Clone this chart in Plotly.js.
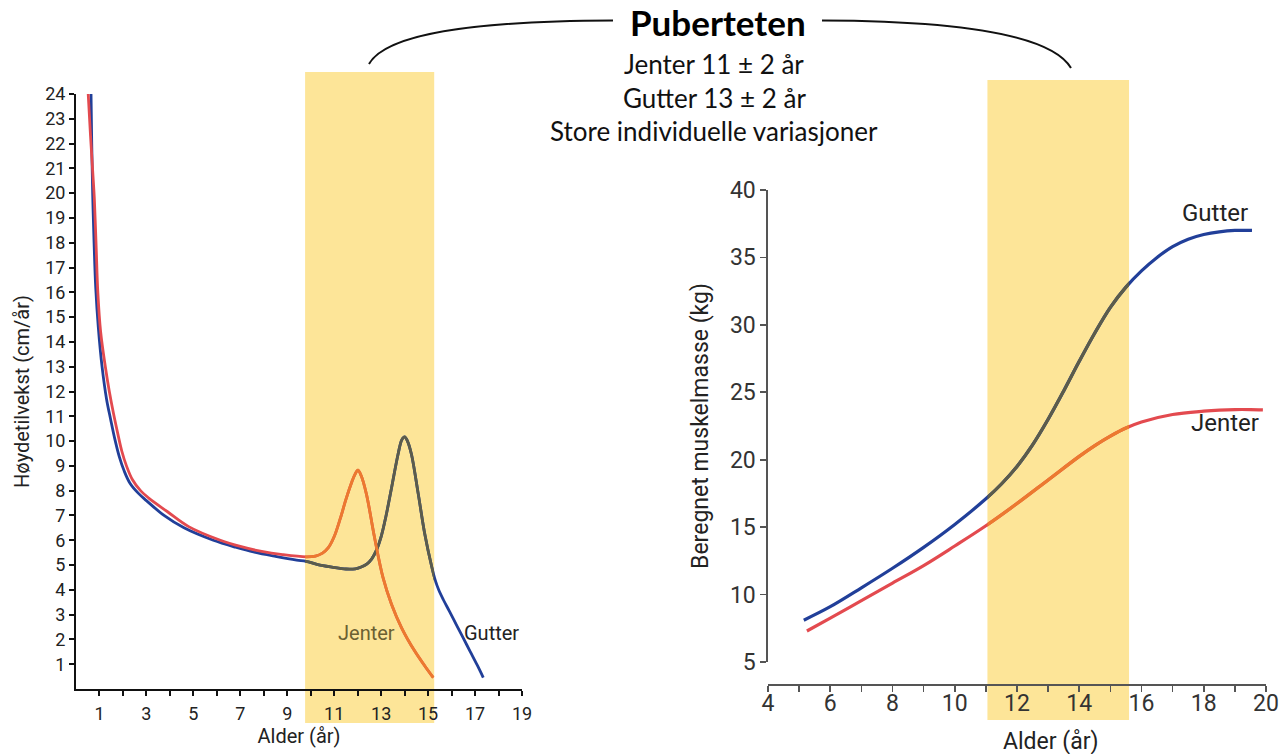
<!DOCTYPE html>
<html><head><meta charset="utf-8">
<script src="https://cdn.plot.ly/plotly-3.0.1.min.js"></script>
<style>html,body{margin:0;padding:0;background:#fff}#chart{width:1285px;height:754px}</style>
</head><body><div id="chart"></div>
<script>
// ---------- Left chart: Høydetilvekst (cm/år) vs Alder (år) ----------
const ageGutterL = [0.64, 0.67, 0.71, 0.77, 0.84, 0.95, 1.11, 1.3, 1.47, 1.65, 1.85, 2.05, 2.3, 2.65, 3.0, 3.75, 4.6, 5.85, 6.8, 7.6, 8.5, 9.4, 9.8, 10.3, 10.9, 11.5, 11.9, 12.15, 12.4, 12.6, 12.8, 13.0, 13.2, 13.45, 13.72, 13.88, 14.0, 14.12, 14.29, 14.58, 14.86, 15.15, 15.3, 15.45, 15.65, 15.9, 16.2, 16.5, 16.8, 17.1, 17.35];
const velGutterL = [24, 22, 20, 18, 16.2, 14.6, 13, 11.7, 10.9, 10.1, 9.35, 8.8, 8.3, 7.9, 7.6, 7.0, 6.5, 6.0, 5.72, 5.52, 5.35, 5.2, 5.15, 5.02, 4.92, 4.84, 4.85, 4.92, 5.05, 5.25, 5.6, 6.15, 6.95, 8.15, 9.47, 10.05, 10.17, 10.0, 9.47, 7.87, 6.24, 4.95, 4.4, 4.0, 3.6, 3.15, 2.6, 2.05, 1.5, 0.95, 0.46];
const ageJenterL = [0.52, 0.62, 0.71, 0.78, 0.86, 0.93, 1.05, 1.25, 1.42, 1.6, 1.78, 1.95, 2.15, 2.4, 2.75, 3.1, 3.9, 4.8, 6.15, 7.0, 7.91, 8.8, 9.8, 10.2, 10.5, 10.75, 11.0, 11.25, 11.5, 11.75, 11.88, 12.01, 12.15, 12.37, 12.72, 13.08, 13.44, 13.87, 14.43, 14.86, 15.22];
const velJenterL = [24, 22.3, 20.9, 19.8, 17.8, 16, 14.4, 13, 12.0, 11.1, 10.3, 9.6, 9.0, 8.45, 8.0, 7.7, 7.15, 6.55, 6.0, 5.75, 5.55, 5.42, 5.33, 5.36, 5.48, 5.7, 6.15, 6.85, 7.65, 8.35, 8.65, 8.83, 8.6, 7.87, 6.1, 4.49, 3.42, 2.47, 1.53, 0.93, 0.46];
const xTickValsL = [1,2,3,4,5,6,7,8,9,10,11,12,13,14,15,16,17,18,19];
const xTickTextL = ['1','','3','','5','','7','','9','','11','','13','','15','','17','','19'];
const yTickValsL = [1,2,3,4,5,6,7,8,9,10,11,12,13,14,15,16,17,18,19,20,21,22,23,24];
const pubertyBandL = [9.76, 15.26];

// ---------- Right chart: Beregnet muskelmasse (kg) vs Alder (år) ----------
const ageGutterR = [5.15, 6, 7, 8, 9, 10, 11, 11.5, 12, 12.5, 13, 13.5, 14, 14.5, 15, 15.5, 16, 16.5, 17, 17.5, 18, 18.5, 19, 19.55];
const massGutterR = [8.1, 9.1, 10.5, 11.95, 13.5, 15.2, 17.1, 18.2, 19.5, 21.1, 23.0, 25.1, 27.3, 29.4, 31.3, 32.8, 34.0, 35.0, 35.8, 36.35, 36.7, 36.9, 37.0, 37.0];
const ageJenterR = [5.25, 6, 7, 8, 9, 10, 11, 12, 13, 14, 14.5, 15, 15.5, 16, 17, 18, 18.5, 19, 19.5, 19.9];
const massJenterR = [7.3, 8.25, 9.55, 10.85, 12.15, 13.6, 15.1, 16.75, 18.5, 20.25, 21.05, 21.75, 22.35, 22.8, 23.35, 23.6, 23.68, 23.72, 23.72, 23.7];
const xTickValsR = [4,5,6,7,8,9,10,11,12,13,14,15,16,17,18,19,20];
const xTickTextR = ['4','','6','','8','','10','','12','','14','','16','','18','','20'];
const yTickValsR = [5,10,15,20,25,30,35,40];
const pubertyBandR = [11.05, 15.6];

// ---------- Geometry (pixels -> paper) ----------
const W = 1285, H = 754;
const px = p => p / W;
const py = p => 1 - p / H;
const LX = [76, 522], LY = [689, 94];
const RX = [768, 1266], RY = [662, 190], RXpos = 684;
const LXR = [0, 19], LYR = [0, 24], RXR = [4, 20], RYR = [5, 40];
function bandDomain(dom, rng, band) {
  const f = v => dom[0] + (v - rng[0]) / (rng[1] - rng[0]) * (dom[1] - dom[0]);
  return [px(f(band[0])), px(f(band[1]))];
}

const blue = '#213f99', red = '#e34a4f';
const blueBand = '#5c5c4a', redBand = '#ec7a2f';
const FONT = 'Roboto, "DejaVu Sans", sans-serif';
const TFONT = 'Lato, "Open Sans", sans-serif';

const lineL = (c) => ({color: c, width: 2.8, shape: 'spline', smoothing: 1});
const lineR = (c) => ({color: c, width: 3.2, shape: 'spline', smoothing: 1});

const traces = [
  {x: ageGutterL, y: velGutterL, xaxis: 'x', yaxis: 'y', mode: 'lines', line: lineL(blue), name: 'Gutter'},
  {x: ageJenterL, y: velJenterL, xaxis: 'x', yaxis: 'y', mode: 'lines', line: lineL(red), name: 'Jenter'},
  {x: ageGutterL, y: velGutterL, xaxis: 'x3', yaxis: 'y', mode: 'lines', line: lineL(blueBand), name: 'Gutter'},
  {x: ageJenterL, y: velJenterL, xaxis: 'x3', yaxis: 'y', mode: 'lines', line: lineL(redBand), name: 'Jenter'},
  {x: ageGutterR, y: massGutterR, xaxis: 'x2', yaxis: 'y2', mode: 'lines', line: lineR(blue), name: 'Gutter'},
  {x: ageJenterR, y: massJenterR, xaxis: 'x2', yaxis: 'y2', mode: 'lines', line: lineR(red), name: 'Jenter'},
  {x: ageGutterR, y: massGutterR, xaxis: 'x4', yaxis: 'y2', mode: 'lines', line: lineR(blueBand), name: 'Gutter'},
  {x: ageJenterR, y: massJenterR, xaxis: 'x4', yaxis: 'y2', mode: 'lines', line: lineR(redBand), name: 'Jenter'}
];

const axBaseL = {showgrid: false, zeroline: false, showline: true, linecolor: '#111', linewidth: 2,
  ticks: 'outside', ticklen: 5, tickwidth: 2, tickcolor: '#111', tickfont: {family: FONT, size: 18, color: '#222'}, fixedrange: true};
const axBaseR = {showgrid: false, zeroline: false, showline: true, linecolor: '#555', linewidth: 1.6,
  ticks: 'outside', ticklen: 6, tickwidth: 1.6, tickcolor: '#555', tickfont: {family: FONT, size: 23, color: '#333'}, fixedrange: true};

// bracket path over the two charts
const P = (x, y) => px(x).toFixed(5) + ',' + py(y).toFixed(5);
const bracketL = 'M' + P(369, 64) + ' C' + P(386, 34) + ' ' + P(470, 21) + ' ' + P(613, 20.5);
const bracketR = 'M' + P(822, 20.5) + ' C' + P(965, 21) + ' ' + P(1052, 36) + ' ' + P(1071, 68);

const ann = (o) => Object.assign({showarrow: false, xanchor: 'center', yanchor: 'middle'}, o);

const layout = {
  width: W, height: H, margin: {l: 0, r: 0, t: 0, b: 0},
  paper_bgcolor: '#ffffff', plot_bgcolor: 'rgba(0,0,0,0)', showlegend: false,
  font: {family: FONT, color: '#222'},
  xaxis: Object.assign({}, axBaseL, {domain: [px(LX[0]), px(LX[1])], range: LXR, anchor: 'y',
    tickmode: 'array', tickvals: xTickValsL, ticktext: xTickTextL, ticklabelstandoff: 2,
    title: {text: 'Alder (år)', font: {family: FONT, size: 20, color: '#222'}, standoff: 3}}),
  yaxis: Object.assign({}, axBaseL, {domain: [py(LY[0]), py(LY[1])], range: LYR, anchor: 'x',
    tickmode: 'array', tickvals: yTickValsL,
    title: {text: 'Høydetilvekst (cm/år)', font: {family: FONT, size: 20, color: '#222'}, standoff: 10}}),
  xaxis2: Object.assign({}, axBaseR, {domain: [px(RX[0]), px(RX[1])], range: RXR, anchor: 'free', position: py(RXpos),
    tickmode: 'array', tickvals: xTickValsR, ticktext: xTickTextR, ticklabelstandoff: -8}),
  yaxis2: Object.assign({}, axBaseR, {domain: [py(RY[0]), py(RY[1])], range: RYR, anchor: 'x2',
    tickmode: 'array', tickvals: yTickValsR,
    title: {text: 'Beregnet muskelmasse (kg)', font: {family: FONT, size: 23, color: '#222'}, standoff: 15}}),
  xaxis3: {domain: bandDomain(LX, LXR, pubertyBandL), range: pubertyBandL, anchor: 'y', visible: false, fixedrange: true},
  xaxis4: {domain: bandDomain(RX, RXR, pubertyBandR), range: pubertyBandR, anchor: 'y2', visible: false, fixedrange: true},
  shapes: [
    {type: 'rect', xref: 'x', yref: 'paper', x0: pubertyBandL[0], x1: pubertyBandL[1], y0: py(723), y1: py(72),
      fillcolor: '#fde598', line: {width: 0}, layer: 'below'},
    {type: 'rect', xref: 'x2', yref: 'paper', x0: pubertyBandR[0], x1: pubertyBandR[1], y0: py(720), y1: py(80),
      fillcolor: '#fde598', line: {width: 0}, layer: 'below'},
    {type: 'path', xref: 'paper', yref: 'paper', path: bracketL, line: {color: '#111', width: 2}},
    {type: 'path', xref: 'paper', yref: 'paper', path: bracketR, line: {color: '#111', width: 2}}
  ],
  annotations: [
    ann({xref: 'x', yref: 'y', x: 12.36, y: 2.26, text: 'Jenter', font: {family: FONT, size: 20, color: '#6b6032'}}),
    ann({xref: 'x', yref: 'y', x: 17.72, y: 2.26, text: 'Gutter', font: {family: FONT, size: 20, color: '#222'}}),
    ann({xref: 'x2', yref: 'y2', x: 18.36, y: 38.3, text: 'Gutter', font: {family: FONT, size: 24, color: '#222'}}),
    ann({xref: 'x2', yref: 'y2', x: 18.68, y: 22.7, text: 'Jenter', font: {family: FONT, size: 24, color: '#222'}}),
    ann({xref: 'paper', yref: 'paper', x: px(1050), y: py(741), text: 'Alder (år)', font: {family: FONT, size: 23, color: '#222'}}),
    ann({xref: 'paper', yref: 'paper', x: px(718), y: py(22), text: '<b>Puberteten</b>', font: {family: TFONT, size: 35, color: '#000'}}),
    ann({xref: 'paper', yref: 'paper', x: px(714), y: py(64), text: 'Jenter 11 ± 2 år', font: {family: TFONT, size: 26, color: '#111'}}),
    ann({xref: 'paper', yref: 'paper', x: px(714), y: py(98), text: 'Gutter 13 ± 2 år', font: {family: TFONT, size: 26, color: '#111'}}),
    ann({xref: 'paper', yref: 'paper', x: px(714), y: py(131), text: 'Store individuelle variasjoner', font: {family: TFONT, size: 26, color: '#111'}})
  ]
};

Plotly.newPlot('chart', traces, layout, {displayModeBar: false, staticPlot: true});
</script>
</body></html>
